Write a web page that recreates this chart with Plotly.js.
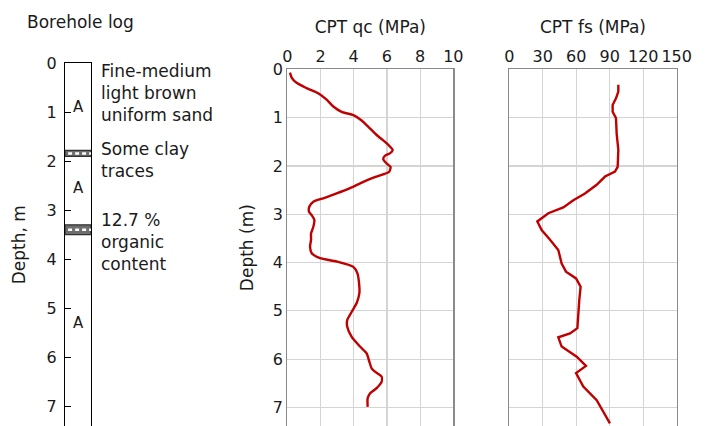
<!DOCTYPE html>
<html>
<head>
<meta charset="utf-8">
<script src="https://cdn.plot.ly/plotly-3.0.1.min.js"></script>
<style>
  html, body { margin: 0; padding: 0; background: #fff; }
  #chart { width: 707px; height: 426px; }
</style>
</head>
<body>
<div id="chart"></div>
<script>
// CPT cone resistance qc (MPa) against depth (m)
const qcDepth = [0.07, 0.17, 0.28, 0.39, 0.51, 0.63, 0.77, 0.88, 0.95, 1.06, 1.19, 1.36, 1.53, 1.67, 1.74, 1.79, 1.86, 1.95, 2.02, 2.12, 2.22, 2.33, 2.46, 2.57, 2.67, 2.74, 2.84, 2.95, 3.02, 3.12, 3.26, 3.40, 3.53, 3.67, 3.81, 3.91, 3.98, 4.09, 4.22, 4.50, 4.64, 4.84, 5.02, 5.19, 5.33, 5.54, 5.74, 5.88, 6.05, 6.19, 6.26, 6.36, 6.47, 6.60, 6.71, 6.81, 6.99];
const qcValue = [0.16, 0.26, 0.56, 1.16, 1.93, 2.37, 2.77, 3.27, 3.98, 4.48, 4.88, 5.38, 5.98, 6.35, 6.18, 5.88, 5.78, 5.98, 6.22, 6.14, 5.38, 4.58, 3.78, 2.97, 2.17, 1.57, 1.33, 1.31, 1.47, 1.63, 1.57, 1.43, 1.43, 1.37, 1.47, 1.97, 2.97, 3.98, 4.22, 4.34, 4.34, 4.18, 3.88, 3.61, 3.61, 3.88, 4.38, 4.78, 4.94, 5.08, 5.28, 5.68, 5.68, 5.38, 4.98, 4.84, 4.84];

// CPT sleeve friction fs against depth (m)
const fsDepth = [0.32, 0.46, 0.60, 0.74, 0.88, 1.01, 1.33, 1.67, 2.02, 2.12, 2.22, 2.39, 2.57, 2.71, 2.86, 2.98, 3.15, 3.33, 3.53, 3.74, 4.02, 4.19, 4.33, 4.50, 4.78, 5.12, 5.36, 5.47, 5.55, 5.74, 5.95, 6.14, 6.29, 6.57, 6.85, 7.33];
const fsValue = [97.7, 97.7, 95.6, 92.6, 92.6, 95.6, 96.2, 97.7, 97.1, 94.7, 85.8, 78.3, 67.8, 57.4, 48.4, 35.0, 25.1, 29.0, 36.5, 43.9, 46.9, 50.8, 59.8, 63.9, 62.7, 61.9, 61.0, 54.4, 43.9, 46.9, 60.4, 68.7, 59.8, 66.3, 78.3, 90.2];

// Borehole log: thin layers (top, bottom depth), soil unit labels and descriptions
const layerTop = [1.78, 3.30];
const layerBottom = [1.90, 3.50];
const unitLabels = ['A', 'A', 'A'];
const unitDepths = [0.9, 2.55, 5.3];
const noteTexts = ['Fine-medium<br>light brown<br>uniform sand', 'Some clay<br>traces', '12.7 %<br>organic<br>content'];
const noteDepths = [0.61, 1.98, 3.65];

const qcTicks = [0, 2, 4, 6, 8, 10];
const fsTicks = [0, 30, 60, 90, 120, 150];
const depthTicks = [0, 1, 2, 3, 4, 5, 6, 7];

const W = 707, H = 426;
const FONT = 'DejaVu Sans, Verdana, sans-serif';
const TXT = '#1a1a1a';
const RED = '#c00000';
const GRID = '#d4d4d4';
const FRAME = '#8a8a8a';
const TICK_SIZE = 16;
const TEXT_SIZE = 17;

const logTop = 63.3, logPx = 48.96;
const cptTop = 69.3, cptPx = 48.3;

const traces = [
  {
    x: qcValue, y: qcDepth, xaxis: 'x2', yaxis: 'y2', type: 'scatter', mode: 'lines',
    line: { color: RED, width: 2.4, shape: 'spline', smoothing: 0.6 }, hoverinfo: 'skip'
  },
  {
    x: fsValue, y: fsDepth, xaxis: 'x3', yaxis: 'y3', type: 'scatter', mode: 'lines',
    line: { color: RED, width: 2.4 }, hoverinfo: 'skip'
  }
];

const shapes = [];
layerTop.forEach((t, i) => {
  const b = layerBottom[i];
  shapes.push({ type: 'rect', xref: 'x', yref: 'y', x0: 0, x1: 1, y0: t, y1: b,
    fillcolor: '#6e6e6e', line: { color: '#333', width: 1.2 }, layer: 'above' });
  shapes.push({ type: 'line', xref: 'x', yref: 'y', x0: 0.12, x1: 1, y0: (t + b) / 2, y1: (t + b) / 2,
    line: { color: '#ffffff', width: 2.5, dash: '4px,3px' }, layer: 'above' });
});

const annotations = [];
unitLabels.forEach((u, i) => {
  annotations.push({ text: u, xref: 'x', yref: 'y', x: 0.5, y: unitDepths[i], showarrow: false,
    font: { family: FONT, size: 15, color: TXT }, xanchor: 'center', yanchor: 'middle' });
});
noteTexts.forEach((t, i) => {
  annotations.push({ text: t, xref: 'paper', yref: 'y', x: 99 / W, y: noteDepths[i], showarrow: false,
    font: { family: FONT, size: TEXT_SIZE, color: TXT }, xanchor: 'left', yanchor: 'middle', align: 'left' });
});
annotations.push({ text: 'Borehole log', xref: 'paper', yref: 'paper', x: 25 / W, y: 1 - 22 / H,
  showarrow: false, font: { family: FONT, size: TEXT_SIZE, color: TXT }, xanchor: 'left', yanchor: 'middle' });

function depthAxis(top, px, extra) {
  return Object.assign({
    domain: [0, 1 - top / H],
    range: [(H - top) / px, 0],
    tickvals: depthTicks,
    tickfont: { family: FONT, size: TICK_SIZE, color: TXT },
    zeroline: false,
    showline: true,
    mirror: true
  }, extra);
}

const layout = {
  width: W, height: H,
  margin: { l: 0, r: 0, t: 0, b: 0 },
  paper_bgcolor: '#fff', plot_bgcolor: 'rgba(0,0,0,0)',
  showlegend: false,
  font: { family: FONT, color: TXT },
  xaxis: {
    domain: [65 / W, 91 / W], range: [0, 1], side: 'top',
    showgrid: false, showticklabels: false, ticks: '', zeroline: false,
    showline: true, linecolor: '#000', linewidth: 1.2, fixedrange: true
  },
  yaxis: depthAxis(logTop, logPx, {
    linecolor: '#000', linewidth: 1.2, showgrid: false,
    ticks: 'inside', ticklen: 6, tickcolor: '#000', tickwidth: 1,
    ticklabelstandoff: 4,
    title: { text: 'Depth, m', font: { family: FONT, size: TEXT_SIZE, color: TXT }, standoff: 16 }
  }),
  xaxis2: {
    domain: [287.3 / W, 453.3 / W], range: [0, 10], side: 'top', anchor: 'y2',
    tickvals: qcTicks, tickfont: { family: FONT, size: TICK_SIZE, color: TXT },
    showgrid: true, gridcolor: GRID, gridwidth: 1.2, zeroline: false,
    showline: true, linecolor: FRAME, linewidth: 1.2, ticks: '',
    title: { text: 'CPT qc (MPa)', font: { family: FONT, size: TEXT_SIZE, color: TXT }, standoff: 8 }
  },
  yaxis2: depthAxis(cptTop, cptPx, {
    anchor: 'x2', linecolor: FRAME, linewidth: 1.2,
    showgrid: true, gridcolor: GRID, gridwidth: 1.2, ticks: '',
    title: { text: 'Depth (m)', font: { family: FONT, size: TEXT_SIZE, color: TXT }, standoff: 14 }
  }),
  xaxis3: {
    domain: [509.3 / W, 676.7 / W], range: [0, 150], side: 'top', anchor: 'y3',
    tickvals: fsTicks, tickfont: { family: FONT, size: TICK_SIZE, color: TXT },
    showgrid: true, gridcolor: GRID, gridwidth: 1.2, zeroline: false,
    showline: true, linecolor: FRAME, linewidth: 1.2, ticks: '',
    title: { text: 'CPT fs (MPa)', font: { family: FONT, size: TEXT_SIZE, color: TXT }, standoff: 8 }
  },
  yaxis3: depthAxis(cptTop, cptPx, {
    anchor: 'x3', linecolor: FRAME, linewidth: 1.2, showticklabels: false,
    showgrid: true, gridcolor: GRID, gridwidth: 1.2, ticks: ''
  }),
  shapes: shapes,
  annotations: annotations
};

Plotly.newPlot('chart', traces, layout, { staticPlot: true, displayModeBar: false });
</script>
</body>
</html>
